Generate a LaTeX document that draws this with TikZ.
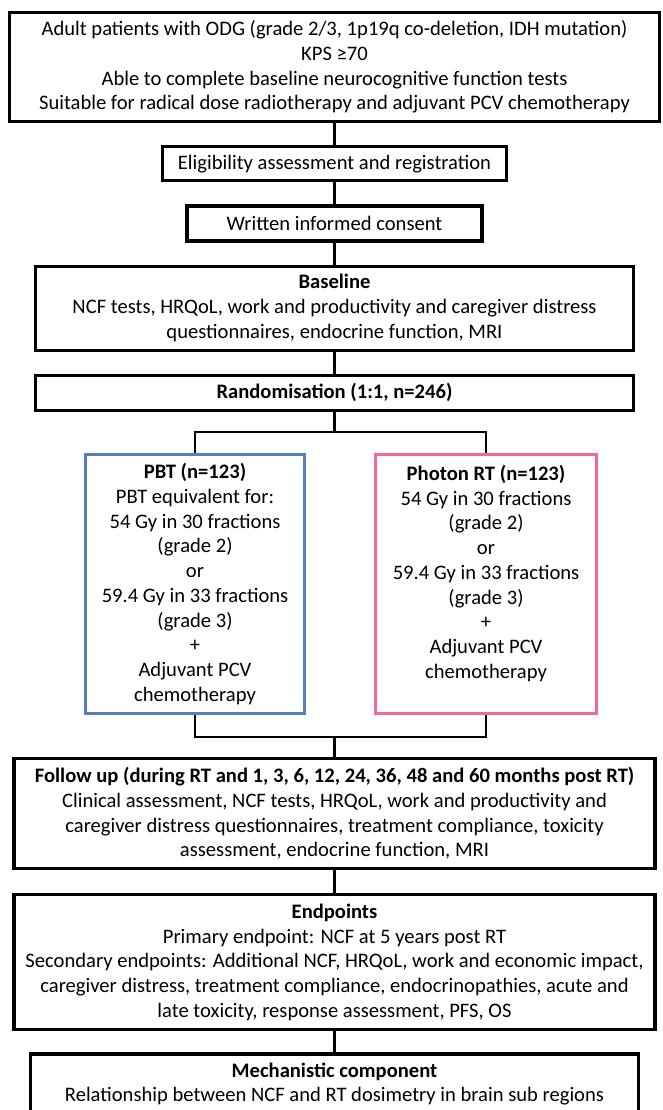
\documentclass[tikz,border=0pt]{standalone}
\usepackage{fontspec}
\setmainfont{Carlito}
\usetikzlibrary{positioning}

\definecolor{pbtblue}{RGB}{79,129,189}
\definecolor{rtpink}{RGB}{250,100,150}

\begin{document}
\begin{tikzpicture}[x=1pt,y=-1pt,node distance=22pt,line width=2.6pt,
                    every node/.style={font=\fontsize{20.6}{24.7}\selectfont,align=center},
                    flow node/.style={draw,line width=3.2pt,inner sep=2pt,minimum width=#1},
                    arm node/.style={draw,line width=3pt,inner sep=2pt,minimum width=#1,minimum height=259pt}]

  \clip (0,0) rectangle (663,1110);

  \node[flow node=650pt,minimum height=109pt] (criteria) at (334.5,67)
    {Adult patients with ODG (grade 2/3, 1p19q co-deletion, IDH mutation)\\
     KPS ≥70\\
     Able to complete baseline neurocognitive function tests\\
     Suitable for radical dose radiotherapy and adjuvant PCV chemotherapy};
  \node[flow node=344pt,minimum height=34pt,below=of criteria] (elig)
    {Eligibility assessment and registration};
  \node[flow node=295pt,minimum height=35pt,below=of elig] (consent)
    {Written informed consent};
  \node[flow node=598pt,minimum height=84pt,below=of consent] (baseline)
    {\textbf{Baseline}\\
     NCF tests, HRQoL, work and productivity and caregiver distress\\
     questionnaires, endocrine function, MRI};
  \node[flow node=598pt,minimum height=35pt,below=of baseline] (random)
    {\textbf{Randomisation (1:1, n=246)}};

  % treatment arms
  \node[arm node=219pt,draw=pbtblue] (pbt) at (195,584)
    {\textbf{PBT (n=123)}\\
     PBT equivalent for:\\
     54 Gy in 30 fractions\\
     (grade 2)\\
     or\\
     59.4 Gy in 33 fractions\\
     (grade 3)\\
     +\\
     Adjuvant PCV\\
     chemotherapy};
  \node[arm node=221pt,draw=rtpink,right=68pt of pbt] (photon)
    {\textbf{Photon RT (n=123)}\\
     54 Gy in 30 fractions\\
     (grade 2)\\
     or\\
     59.4 Gy in 33 fractions\\
     (grade 3)\\
     +\\
     Adjuvant PCV\\
     chemotherapy\\
     \mbox{}};

  \coordinate (join) at (pbt.south -| random.south);

  \node[flow node=641pt,minimum height=110pt,below=42pt of join] (follow)
    {\textbf{Follow up (during RT and 1, 3, 6, 12, 24, 36, 48 and 60 months post RT)}\\
     Clinical assessment, NCF tests, HRQoL, work and productivity and\\
     caregiver distress questionnaires, treatment compliance, toxicity\\
     assessment, endocrine function, MRI};
  \node[flow node=641pt,minimum height=135pt,below=23pt of follow] (endpoints)
    {\textbf{Endpoints}\\
     Primary endpoint: NCF at 5 years post RT\\
     Secondary endpoints: Additional NCF, HRQoL, work and economic impact,\\
     caregiver distress, treatment compliance, endocrinopathies, acute and\\
     late toxicity, response assessment, PFS, OS};
  \node[flow node=608pt,minimum height=60pt,below=21pt of endpoints] (mech)
    {\textbf{Mechanistic component}\\
     Relationship between NCF and RT dosimetry in brain sub regions};

  \draw (criteria.south) -- (elig.north);
  \draw (elig.south) -- (consent.north);
  \draw (consent.south) -- (baseline.north);
  \draw (baseline.south) -- (random.north);
  \draw (random.south) -- ++(0,20) -| (pbt.north);
  \draw (random.south) -- ++(0,20) -| (photon.north);
  \draw (pbt.south) -- ++(0,22) -| (follow.north);
  \draw (photon.south) -- ++(0,22) -| (follow.north);
  \draw (follow.south) -- (endpoints.north);
  \draw (endpoints.south) -- (mech.north);
\end{tikzpicture}
\end{document}
